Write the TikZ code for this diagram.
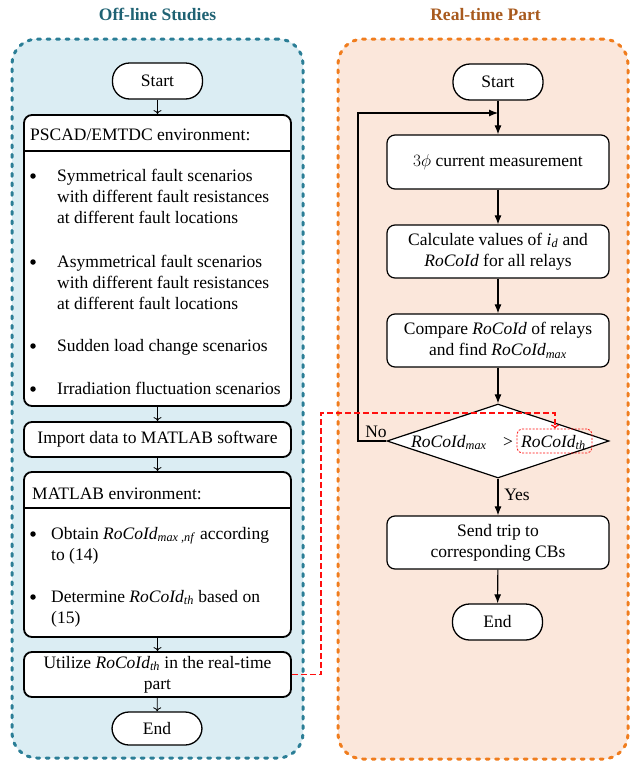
\documentclass[tikz,border=0pt]{standalone}
\usepackage{fontspec}
\setmainfont{Liberation Serif}
\usetikzlibrary{arrows.meta,shapes.geometric}
\definecolor{tealline}{HTML}{2B7E96}
\definecolor{tealfill}{HTML}{DBEDF3}
\definecolor{tealtitle}{HTML}{1F6273}
\definecolor{orgline}{HTML}{F07D1E}
\definecolor{orgfill}{HTML}{FBE7DB}
\definecolor{orgtitle}{HTML}{A85A1E}
\definecolor{redline}{HTML}{FF1010}
\newcommand\rc{\textit{RoCoId}}
\newcommand\sbs[1]{\textsubscript{\textit{#1}}}
\begin{document}
\begin{tikzpicture}[x=1pt,y=-1pt,
  every node/.style={font=\fontsize{17.5}{21}\selectfont, inner sep=0pt},
  panel/.style={line width=3pt, dash pattern=on 3pt off 6.5pt, line cap=round, rounded corners=25pt},
  ptitle/.style={font=\fontsize{17.5}{21}\selectfont\bfseries, anchor=base},
  lbox/.style={draw, line width=1.8pt, rounded corners=8pt, fill=white, minimum width=267pt},
  rbox/.style={draw, line width=1.2pt, rounded corners=8pt, fill=white, minimum width=222pt, align=center},
  term/.style={draw, line width=1.3pt, rounded corners=17pt, fill=white, minimum height=36pt, minimum width=90pt},
  lt/.style={anchor=base west},
  dot/.style={circle, fill=black, minimum size=5.5pt},
  larr/.style={-{To[length=4pt,width=8pt]}, line width=0.8pt},
  rarr/.style={-{Latex[length=9pt,width=7pt]}, line width=1.1pt},
  redd/.style={draw=redline, line width=1.2pt, dash pattern=on 6pt off 3pt},
]
\useasboundingbox (0,0) rectangle (635,761);

% panels
\node[panel, draw=tealline, fill=tealfill, minimum width=291pt, minimum height=719pt] (lpanel) at (157.5,398.5) {};
\node[panel, draw=orgline, fill=orgfill, minimum width=290pt, minimum height=720pt] (rpanel) at (483,399) {};
\node[ptitle, text=tealtitle] (ltitle) at (157.5,20) {Off-line Studies};
\node[ptitle, text=orgtitle] (rtitle) at (485.5,20) {Real-time Part};

% ---------------- left ----------------
\node[term] (lstart) at (157.5,81) {Start};
\node[lbox, minimum height=291pt] (pscad) at (157.5,260.5) {};
\node[lt] (pscadh) at (30,140) {PSCAD/EMTDC environment:};
\coordinate (sep1) at (0,151);
\draw[line width=1.5pt] (pscad.west |- sep1) -- (pscad.east |- sep1);
\node[dot] (d1) at (33,176) {};
\node[lt] (b1a) at (57,181) {Symmetrical fault scenarios};
\node[lt] (b1b) at (57,202) {with different fault resistances};
\node[lt] (b1c) at (57,223) {at different fault locations};
\node[dot] (d2) at (33,262) {};
\node[lt] (b2a) at (57,267) {Asymmetrical fault scenarios};
\node[lt] (b2b) at (57,288) {with different fault resistances};
\node[lt] (b2c) at (57,309) {at different fault locations};
\node[dot] (d3) at (33,346) {};
\node[lt] (b3a) at (57,351) {Sudden load change scenarios};
\node[dot] (d4) at (33,389) {};
\node[lt] (b4a) at (57,394) {Irradiation fluctuation scenarios};

\node[lbox, minimum height=35pt] (import) at (157.5,439.5) {Import data to MATLAB software};

\node[lbox, minimum height=165pt] (matlab) at (157.5,554.5) {};
\node[lt] (matlabh) at (32,499) {MATLAB environment:};
\coordinate (sep2) at (0,508);
\draw[line width=1.5pt] (matlab.west |- sep2) -- (matlab.east |- sep2);
\node[dot] (d5) at (33,534) {};
\node[lt] (m1a) at (51,539) {Obtain \rc\sbs{max ,nf} according};
\node[lt] (m1b) at (51,560) {to (14)};
\node[dot] (d6) at (33,597) {};
\node[lt] (m2a) at (51,602) {Determine \rc\sbs{th} based on};
\node[lt] (m2b) at (51,623) {(15)};

\node[lbox, minimum height=45pt, align=center] (util) at (157.5,674.5) {Utilize \rc\sbs{th} in the real-time\\part};
\node[term, minimum height=33pt] (lend) at (157,728.5) {End};

\draw[larr] (lstart) -- (pscad);
\draw[larr] (pscad) -- (import);
\draw[larr] (import) -- (matlab);
\draw[larr] (matlab) -- (util);
\draw[larr] (util) -- (lend);

% ---------------- right ----------------
\node[term] (rstart) at (498,82) {Start};
\node[rbox, minimum height=54pt] (meas) at (498,162) {$3\phi$ current measurement};
\node[rbox, minimum height=53pt] (calc) at (498,251.5) {Calculate values of \textit{i}\sbs{d} and\\\rc{} for all relays};
\node[rbox, minimum height=53pt] (cmp) at (498,340.5) {Compare \rc{} of relays\\and find \rc\sbs{max}};
\node[diamond, draw, line width=1.2pt, fill=white, minimum width=222pt, minimum height=74pt] (dec) at (498,441) {};
\node[anchor=base west] (dmax) at (411,447) {\rc\sbs{max}};
\node[anchor=base] (gt) at (508,447) {>};
\node[draw=redline, line width=0.8pt, dash pattern=on 2pt off 1.5pt, rounded corners=5pt, minimum width=75pt, minimum height=24pt] (thbox) at (554.5,441) {};
\node[anchor=base west] (dth) at (521,447) {\rc\sbs{th}};
\node[rbox, minimum height=53pt] (send) at (498,542.5) {Send trip to\\corresponding CBs};
\node[term] (rend) at (497.5,622) {End};

\draw[rarr] (rstart) -- (meas);
\draw[rarr] (meas) -- (calc);
\draw[rarr] (calc) -- (cmp);
\draw[rarr] (cmp) -- (dec);
\draw[rarr] (dec) -- (send);
\draw[rarr] (send) -- (rend);
\coordinate (lp1) at (358,441);
\coordinate (lp2) at (358,113);
\draw[rarr] (dec.west) -- (lp1) -- (lp2) -- (lp2 -| rstart.south);
\node[anchor=base] (no) at (376,437) {No};
\node[anchor=base] (yes) at (517,500) {Yes};

% red dashed link
\coordinate (ra) at (321,413);
\coordinate (rb) at (555,413);
\draw[redd, -{To[length=4pt,width=8pt]}] (util.east) -| (ra) -- (rb) -- (rb |- thbox.north);
\end{tikzpicture}
\end{document}
